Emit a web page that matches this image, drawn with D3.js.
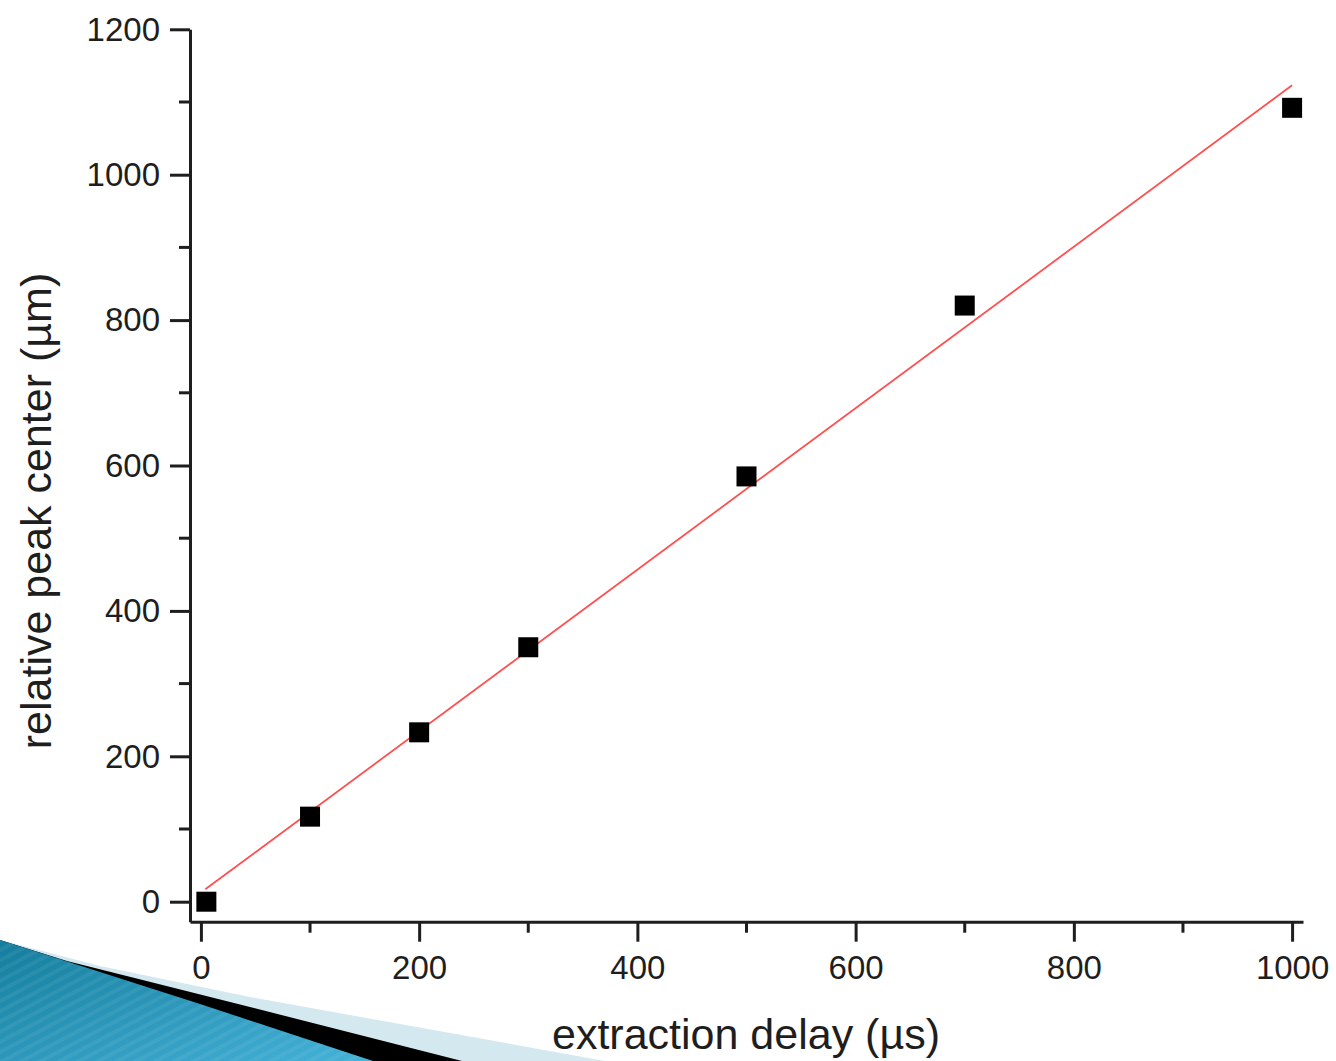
<!DOCTYPE html>
<html>
<head>
<meta charset="utf-8">
<script src="https://cdn.jsdelivr.net/npm/d3@7"></script>
<style>
  html, body { margin: 0; padding: 0; background: #fff; }
  svg { display: block; }
  text { font-family: "Liberation Sans", Arial, Helvetica, sans-serif; fill: #1e1e1e; }
</style>
</head>
<body>
<svg id="chart" width="1336" height="1061"></svg>
<script>
// ---- data ----
const delays = [5, 100, 200, 300, 500, 700, 1000];          // extraction delay (µs)
const peakCenters = [0, 117, 233, 350, 585, 820, 1092];      // relative peak center (µm)
const fitX = [4, 1000];                                       // linear fit endpoints
const fitY = [17, 1123];
const xTickValues = [0, 200, 400, 600, 800, 1000];
const xMinorValues = [100, 300, 500, 700, 900];
const yTickValues = [0, 200, 400, 600, 800, 1000, 1200];
const yMinorValues = [100, 300, 500, 700, 900, 1100];
const xLabel = "extraction delay (\u00b5s)";
const yLabel = "relative peak center (\u00b5m)";

const svg = d3.select("#chart");
const ink = "#1e1e1e";

// ---- decorative swoosh (bottom-left) ----
const defs = svg.append("defs");
const grad = defs.append("linearGradient").attr("id", "blueGrad")
  .attr("x1", "0%").attr("y1", "0%").attr("x2", "100%").attr("y2", "100%");
grad.append("stop").attr("offset", "0%").attr("stop-color", "#147d9d");
grad.append("stop").attr("offset", "100%").attr("stop-color", "#45b2d8");
const pat = defs.append("pattern").attr("id", "stripes")
  .attr("patternUnits", "userSpaceOnUse").attr("width", 9).attr("height", 9)
  .attr("patternTransform", "rotate(62)");
pat.append("rect").attr("width", 4).attr("height", 9).attr("fill", "#ffffff").attr("opacity", 0.06);

const deco = svg.append("g");
const line = d3.line();
deco.append("path").attr("d", line([[0, 940], [100, 966], [250, 997], [605, 1061], [0, 1061]]) + "Z")
  .attr("fill", "#d4e8f0");
deco.append("path").attr("d", line([[0, 940], [67, 961], [250, 1007], [462, 1061], [0, 1061]]) + "Z")
  .attr("fill", "#000");
deco.append("path").attr("d", line([[0, 940], [200, 1004], [373, 1061], [0, 1061]]) + "Z")
  .attr("fill", "url(#blueGrad)");
deco.append("path").attr("d", line([[0, 940], [200, 1004], [373, 1061], [0, 1061]]) + "Z")
  .attr("fill", "url(#stripes)");

// ---- scales ----
const x = d3.scaleLinear().domain([-10, 1010]).range([190, 1303]);
const y = d3.scaleLinear().domain([-27.5, 1200]).range([921.7, 29.3]);

// ---- axes ----
const xAxis = svg.append("g").attr("transform", `translate(0,${y(-27.5)})`)
  .call(d3.axisBottom(x).tickValues(xTickValues).tickSize(20).tickSizeOuter(0).tickPadding(14)
    .tickFormat(d3.format("d")));
xAxis.append("g").selectAll("line").data(xMinorValues).join("line")
  .attr("x1", d => x(d)).attr("x2", d => x(d)).attr("y1", 0).attr("y2", 11);

const yAxis = svg.append("g").attr("transform", `translate(${x(-10)},0)`)
  .call(d3.axisLeft(y).tickValues(yTickValues).tickSize(20).tickSizeOuter(0).tickPadding(10)
    .tickFormat(d3.format("d")));
yAxis.append("g").selectAll("line").data(yMinorValues).join("line")
  .attr("y1", d => y(d)).attr("y2", d => y(d)).attr("x1", 0).attr("x2", -11);

[xAxis, yAxis].forEach(g => {
  g.select(".domain").attr("stroke", ink).attr("stroke-width", 3);
  g.selectAll("line").attr("stroke", ink).attr("stroke-width", 3);
  g.selectAll("text").attr("font-size", 33).attr("fill", ink)
    .style("font-family", '"Liberation Sans", Arial, sans-serif');
});
yAxis.selectAll(".tick text").attr("dy", "0.33em");

// ---- axis titles ----
svg.append("text").attr("x", 746).attr("y", 1049).attr("text-anchor", "middle")
  .attr("font-size", 43).text(xLabel);
svg.append("text").attr("transform", "translate(51,511) rotate(-90)")
  .attr("text-anchor", "middle").attr("font-size", 43).text(yLabel);

// ---- fit line ----
svg.append("path")
  .attr("d", d3.line().x(d => x(d[0])).y(d => y(d[1]))(fitX.map((v, i) => [v, fitY[i]])))
  .attr("stroke", "#ff5050").attr("stroke-width", 1.8).attr("fill", "none");

// ---- data points ----
const s = 20;
svg.append("g").selectAll("rect").data(delays.map((d, i) => [d, peakCenters[i]])).join("rect")
  .attr("x", d => x(d[0]) - s / 2).attr("y", d => y(d[1]) - s / 2)
  .attr("width", s).attr("height", s).attr("fill", "#000");
</script>
</body>
</html>
